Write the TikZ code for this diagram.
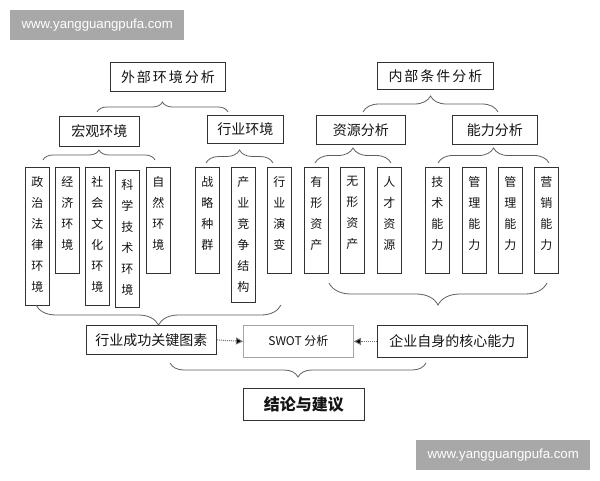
\documentclass[tikz,border=0pt]{standalone}
\usepackage{fontspec}
\setmainfont{Noto Sans CJK SC}
\newfontfamily\wmfont{Liberation Sans}
\usetikzlibrary{decorations.pathreplacing,arrows.meta}
\definecolor{wmgray}{RGB}{168,168,168}
\definecolor{boxline}{RGB}{50,50,50}
\definecolor{brcline}{RGB}{95,95,95}
\newcommand{\vbx}[2]{\parbox[c][#1][t]{24pt}{\centering\vspace*{9pt}\fontsize{12}{21}\selectfont #2}}
\begin{document}
\begin{tikzpicture}[x=1pt,y=-1pt,
  box/.style={draw=boxline, line width=0.8pt, inner sep=0pt, anchor=north west, text=black!92},
  hbox/.style={box, font=\fontsize{14}{16}\selectfont},
  vbox/.style={box},
  brc/.style={draw=brcline, line width=0.8pt, decorate, decoration={brace, amplitude=#1}},
  wm/.style={fill=wmgray, inner sep=0pt, anchor=north west, minimum width=174pt, minimum height=30pt, text=white, font=\wmfont\fontsize{13.2}{15}\selectfont},
  dotarrow/.style={draw=black!55, line width=1pt, dash pattern=on 1pt off 1pt, -{Triangle[length=7pt,width=7pt,fill=black]}}
]
\useasboundingbox (0,0) rectangle (600,480);
\fill[white] (0,0) rectangle (600,480);

% watermarks
\node[wm] (wm1) at (10,10) {www.yangguangpufa.com};
\node[wm] (wm2) at (416,440) {www.yangguangpufa.com};

% top level
\node[hbox, minimum width=115pt, minimum height=29pt] (ext) at (110,62) {\addfontfeature{LetterSpace=14}外部环境分析};
\node[hbox, minimum width=116pt, minimum height=27pt] (int) at (377,62) {\addfontfeature{LetterSpace=14}内部条件分析};

% second level
\node[hbox, minimum width=80pt, minimum height=30pt] (mac) at (59,116) {宏观环境};
\node[hbox, minimum width=76pt, minimum height=28pt] (ind) at (207,115) {行业环境};
\node[hbox, minimum width=89pt, minimum height=29pt] (res) at (316,115) {资源分析};
\node[hbox, minimum width=85pt, minimum height=29pt] (cap) at (452,115) {能力分析};

% vertical boxes
\node[vbox] (v1) at (25,167) {\vbx{138pt}{政\\治\\法\\律\\环\\境}};
\node[vbox] (v2) at (55,167) {\vbx{106pt}{经\\济\\环\\境}};
\node[vbox] (v3) at (85,167) {\vbx{138pt}{社\\会\\文\\化\\环\\境}};
\node[vbox] (v4) at (115,170) {\vbx{137pt}{科\\学\\技\\术\\环\\境}};
\node[vbox] (v5) at (146,167) {\vbx{106pt}{自\\然\\环\\境}};
\node[vbox] (v6) at (195,167) {\vbx{106pt}{战\\略\\种\\群}};
\node[vbox] (v7) at (231,167) {\vbx{135pt}{产\\业\\竞\\争\\结\\构}};
\node[vbox] (v8) at (267,167) {\vbx{106pt}{行\\业\\演\\变}};
\node[vbox] (v9) at (304,167) {\vbx{106pt}{有\\形\\资\\产}};
\node[vbox] (v10) at (340,167) {\vbx{106pt}{无\\形\\资\\产}};
\node[vbox] (v11) at (377,167) {\vbx{106pt}{人\\才\\资\\源}};
\node[vbox] (v12) at (425,167) {\vbx{106pt}{技\\术\\能\\力}};
\node[vbox] (v13) at (462,167) {\vbx{106pt}{管\\理\\能\\力}};
\node[vbox] (v14) at (498,167) {\vbx{106pt}{管\\理\\能\\力}};
\node[vbox] (v15) at (534,167) {\vbx{106pt}{营\\销\\能\\力}};

% lower level
\node[hbox, minimum width=130pt, minimum height=29pt] (ksf) at (86,325) {行业成功关键图素};
\node[box, draw=black!35, minimum width=110pt, minimum height=32pt, font=\fontsize{12}{14}\selectfont] (swot) at (243,325) {SWOT 分析};
\node[hbox, minimum width=150pt, minimum height=32pt] (core) at (377,325) {企业自身的核心能力};
\node[box, minimum width=121pt, minimum height=32pt, font=\bfseries\fontsize{16}{18}\selectfont] (concl) at (243,388) {结论与建议};

% braces (tip up)
\draw[brc=10pt] (97,112) -- (228,112);
\draw[brc=16pt] (363,112) -- (498,112);
\draw[brc=10pt] (43,160) -- (155,160);
\draw[brc=13pt] (206,163) -- (273,163);
\draw[brc=15pt] (315,163) -- (391,163);
\draw[brc=15pt] (438,163) -- (549,163);
% braces (tip down)
\draw[brc=20pt] (281,305) -- (36,305);
\draw[brc=22pt] (547,283) -- (329,283);
\draw[brc=14pt] (426,363) -- (170,363);

% arrows
\draw[dotarrow] (ksf.east) -- (swot.west);
\draw[dotarrow] (core.west) -- (swot.east);
\end{tikzpicture}
\end{document}
